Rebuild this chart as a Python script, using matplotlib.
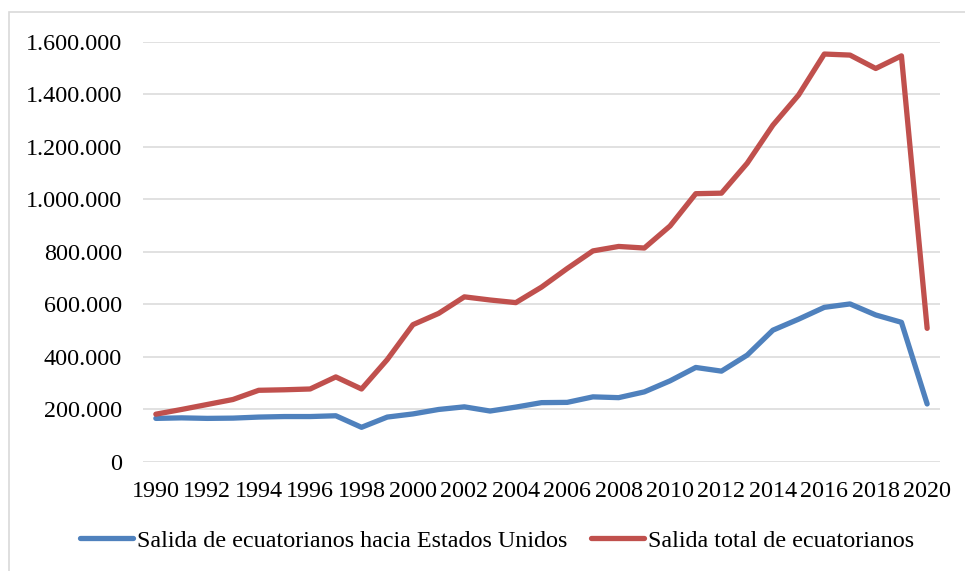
import matplotlib
matplotlib.use('Agg')
import matplotlib.pyplot as plt
from matplotlib.patches import Rectangle
from matplotlib.ticker import FuncFormatter, MultipleLocator

years = list(range(1990, 2021))
salida_eeuu = [165000, 167000, 165000, 166000, 170000, 172000, 172000, 175000, 131000, 170000,
               182000, 199000, 209000, 193000, 208000, 225000, 226000, 247000, 244000, 266000,
               308000, 359000, 345000, 406000, 501000, 543000, 588000, 601000, 559000, 531000,
               220000]
salida_total = [181000, 199000, 218000, 237000, 272000, 274000, 277000, 323000, 277000, 389000,
                522000, 565000, 628000, 616000, 606000, 665000, 736000, 803000, 820000, 814000,
                898000, 1021000, 1023000, 1137000, 1282000, 1397000, 1553000, 1549000, 1498000, 1546000,
                508000]

plt.rcParams['font.family'] = ['Liberation Serif', 'DejaVu Serif']

fig = plt.figure(figsize=(9.65, 5.71), dpi=100)
ax = fig.add_axes([143 / 965, 1 - 461.7 / 571, 797 / 965, 420 / 571])

# chart area frame (cropped on the right and bottom)
fig.patches.append(Rectangle((9 / 965, -0.1), 1.2, 1 - 12 / 571 + 0.1, transform=fig.transFigure,
                             fill=False, edgecolor='#D9D9D9', linewidth=1.2))

ax.plot(years, salida_eeuu, color='#4F81BD', linewidth=3.8, solid_capstyle='round',
        label='Salida de ecuatorianos hacia Estados Unidos')
ax.plot(years, salida_total, color='#C0504D', linewidth=3.8, solid_capstyle='round',
        label='Salida total de ecuatorianos')

ax.set_xlim(1989.5, 2020.5)
ax.set_ylim(0, 1600000)
ax.yaxis.set_major_locator(MultipleLocator(200000))
ax.yaxis.set_major_formatter(FuncFormatter(lambda v, p: f'{int(v):,}'.replace(',', '.')))
ax.set_xticks(years[::2])
ax.grid(True, axis='y', color='#D9D9D9', linewidth=1.1)
ax.set_axisbelow(True)
for s in ax.spines.values():
    s.set_visible(False)
ax.tick_params(axis='both', length=0, labelsize=17.4, colors='black')
ax.tick_params(axis='y', pad=15)
ax.tick_params(axis='x', pad=14)

fig.legend(loc='center', bbox_to_anchor=(497 / 965, 1 - 541 / 571), ncol=2, frameon=False,
           fontsize=17.4, handlelength=2.2, handletextpad=0.15, columnspacing=1.0)

fig.savefig('out.png', dpi=100)
